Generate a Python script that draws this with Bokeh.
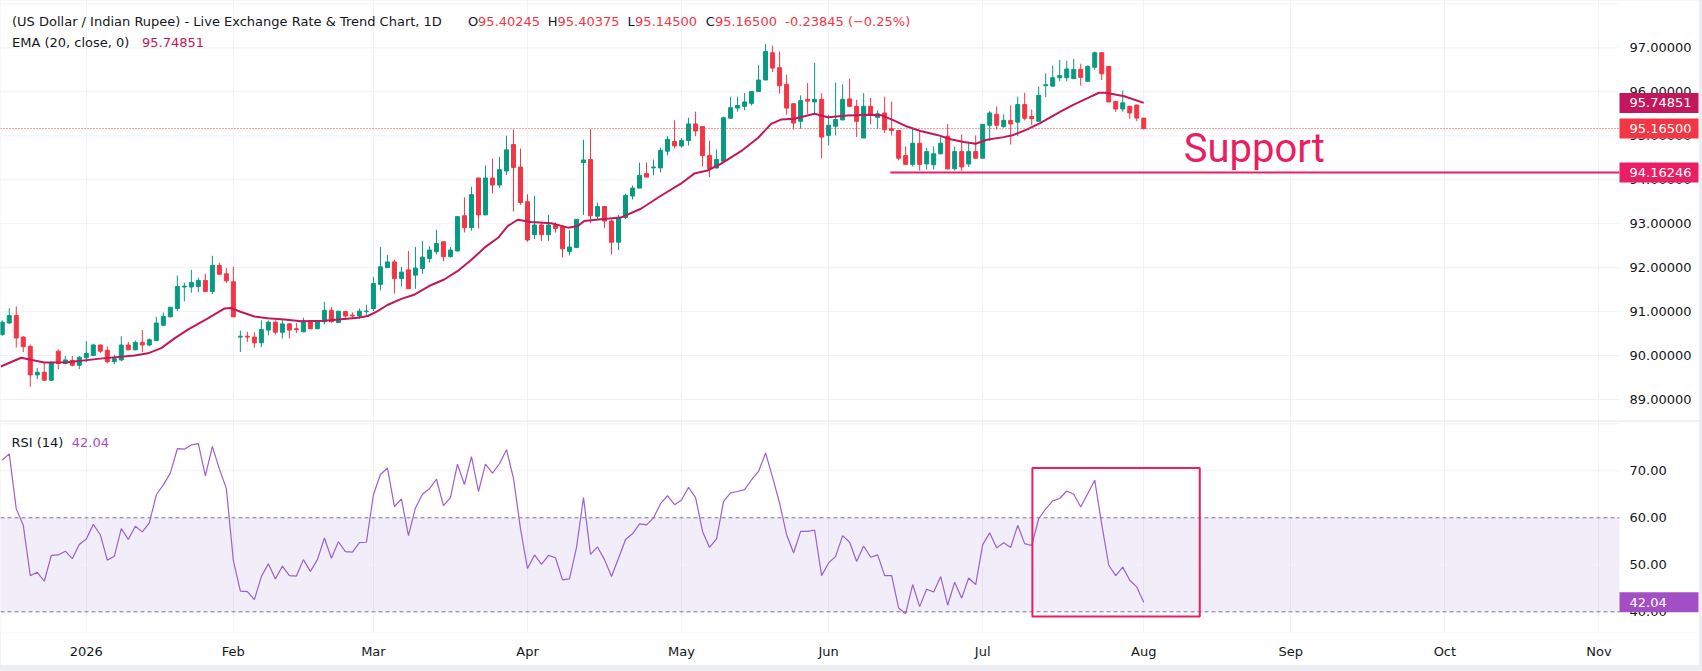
import numpy as np
import pandas as pd
from bokeh.plotting import figure
from bokeh.layouts import column
from bokeh.models import FixedTicker, Span, Label, Grid, Range1d, ColumnDataSource
from bokeh.core.properties import value
from bokeh.embed import file_html
from bokeh.resources import INLINE

# ---------------- data ----------------
bar_index = list(range(-12, 152))   # trading-day index, 0 = 2 Jan 2026

opens = [
    90.48, 90.74, 90.91, 90.42, 90.21, 89.56, 89.62, 89.44, 90.10, 89.82, 89.89, 89.78,
    89.95, 90.00, 90.24, 90.12, 89.86, 89.90, 90.24, 90.13, 90.30, 90.24,
    90.34, 90.69, 90.88, 91.07, 91.56, 91.56, 91.57, 91.71, 91.46, 92.05,
    91.86, 91.68, 90.42, 90.44, 90.42, 90.29, 90.58, 90.76, 90.53, 90.72,
    90.61, 90.54, 90.79, 90.61, 90.77, 91.03, 90.75, 91.00, 90.92, 90.90,
    91.00, 91.07, 91.62, 92.00, 92.13, 91.75, 91.95, 91.83, 91.98, 92.21,
    92.36, 92.59, 92.25, 92.38, 93.18, 92.91, 94.04, 93.20, 94.04, 93.88,
    94.20, 94.80, 94.29, 93.50, 92.75, 92.97, 92.75, 92.97, 92.93, 92.37,
    92.46, 94.39, 94.46, 93.17, 93.39, 93.06, 92.58, 93.14, 93.63, 93.81,
    94.14, 94.27, 94.27, 94.65, 94.87, 94.77, 94.89, 95.27, 95.21, 94.55,
    94.27, 94.42, 95.40, 95.63, 95.67, 95.74, 96.01, 96.27, 96.89, 96.55,
    96.17, 95.73, 95.33, 95.83, 95.77, 95.83, 95.01, 95.22, 95.36, 95.84,
    95.67, 94.95, 95.67, 95.42, 95.52, 95.16, 95.12, 94.55, 94.35, 94.83,
    94.36, 94.34, 94.59, 94.99, 94.25, 94.64, 94.36, 94.64, 94.49, 95.24,
    95.49, 95.21, 95.35, 95.31, 95.71, 95.44, 95.33, 96.14, 96.13, 96.32,
    96.32, 96.30, 96.51, 96.24, 96.56, 96.89, 96.58, 95.78, 95.61, 95.67,
    95.70, 95.40245,
]
highs = [
    90.80, 91.08, 91.12, 90.44, 90.25, 89.72, 89.84, 89.87, 90.14, 89.99, 89.99, 89.99,
    90.33, 90.27, 90.25, 90.21, 90.02, 90.44, 90.31, 90.34, 90.58, 90.39,
    90.88, 90.98, 91.10, 91.82, 91.66, 91.95, 91.77, 91.86, 92.27, 92.11,
    91.99, 92.02, 90.57, 90.54, 90.53, 90.80, 90.80, 90.80, 90.82, 90.74,
    90.74, 90.86, 90.81, 90.81, 91.22, 91.11, 91.01, 91.01, 90.98, 91.07,
    91.15, 91.79, 92.47, 92.29, 92.18, 92.02, 92.38, 92.47, 92.61, 92.49,
    92.86, 92.59, 92.47, 93.16, 93.60, 93.84, 94.04, 94.32, 94.48, 94.52,
    95.00, 95.14, 94.71, 93.67, 93.63, 93.03, 93.20, 93.03, 92.93, 92.86,
    93.10, 94.91, 95.15, 93.48, 93.39, 93.10, 93.20, 93.68, 93.87, 94.39,
    94.39, 94.46, 94.73, 94.99, 95.35, 94.95, 95.41, 95.55, 95.21, 94.89,
    94.69, 95.44, 95.89, 95.89, 95.97, 96.01, 96.61, 97.09, 97.05, 96.92,
    96.39, 95.73, 95.92, 96.20, 96.66, 95.97, 95.48, 96.21, 96.17, 96.30,
    95.82, 95.97, 95.86, 95.58, 95.89, 95.78, 95.12, 94.76, 95.18, 95.11,
    94.73, 94.76, 94.97, 95.27, 94.76, 95.03, 94.86, 95.01, 95.26, 95.56,
    95.67, 95.49, 95.69, 95.89, 95.98, 95.60, 96.12, 96.42, 96.60, 96.73,
    96.71, 96.75, 96.64, 96.60, 96.92, 96.90, 96.58, 95.79, 96.03, 95.69,
    95.71, 95.40375,
]
lows = [
    90.45, 90.72, 90.18, 90.08, 89.29, 89.46, 89.42, 89.42, 89.69, 89.80, 89.75, 89.69,
    89.85, 89.99, 90.06, 89.82, 89.80, 89.87, 90.12, 90.12, 90.08, 90.21,
    90.33, 90.67, 90.87, 91.01, 91.23, 91.43, 91.44, 91.44, 91.40, 91.85,
    91.65, 90.88, 90.08, 90.31, 90.18, 90.19, 90.46, 90.48, 90.39, 90.39,
    90.51, 90.54, 90.60, 90.60, 90.71, 90.75, 90.75, 90.86, 90.84, 90.84,
    90.90, 91.01, 91.48, 92.00, 91.41, 91.57, 91.52, 91.52, 91.86, 92.12,
    92.30, 92.15, 92.23, 92.37, 92.80, 92.84, 92.89, 93.20, 93.69, 93.82,
    94.11, 93.28, 93.43, 92.59, 92.65, 92.61, 92.61, 92.80, 92.23, 92.28,
    92.46, 93.20, 93.01, 93.09, 92.90, 92.30, 92.40, 93.11, 93.55, 93.81,
    94.06, 94.10, 94.17, 94.55, 94.71, 94.73, 94.78, 94.99, 94.30, 94.06,
    94.25, 94.42, 95.39, 95.55, 95.58, 95.69, 96.01, 96.27, 96.45, 95.96,
    95.48, 95.14, 95.16, 95.50, 95.49, 94.49, 94.78, 95.01, 95.36, 95.65,
    94.97, 94.95, 95.26, 95.16, 95.06, 95.01, 94.44, 94.35, 94.30, 94.21,
    94.23, 94.23, 94.58, 94.23, 94.21, 94.20, 94.29, 94.48, 94.49, 94.88,
    95.14, 95.18, 94.80, 94.99, 95.35, 95.24, 95.33, 95.88, 96.13, 96.24,
    96.24, 96.30, 96.14, 96.24, 96.50, 96.27, 95.77, 95.54, 95.55, 95.39,
    95.33, 95.145,
]
closes = [
    90.76, 90.91, 90.40, 90.20, 89.56, 89.62, 89.44, 89.84, 89.82, 89.90, 89.78, 89.96,
    90.05, 90.24, 90.10, 89.86, 89.93, 90.24, 90.13, 90.30, 90.24, 90.36,
    90.74, 90.89, 91.10, 91.57, 91.58, 91.66, 91.71, 91.46, 92.05, 91.85,
    91.70, 90.88, 90.44, 90.42, 90.29, 90.59, 90.76, 90.53, 90.72, 90.58,
    90.59, 90.79, 90.61, 90.79, 91.03, 90.77, 91.01, 90.90, 90.90, 91.01,
    91.01, 91.64, 92.02, 92.13, 91.75, 91.90, 91.52, 91.99, 92.24, 92.40,
    92.55, 92.25, 92.40, 93.16, 92.91, 93.66, 93.20, 94.04, 93.88, 94.23,
    94.68, 94.28, 93.48, 92.63, 92.97, 92.75, 92.97, 92.89, 92.43, 92.47,
    93.10, 94.45, 93.18, 93.39, 93.06, 92.58, 93.14, 93.64, 93.81, 94.10,
    94.06, 94.29, 94.67, 94.92, 94.77, 94.89, 95.27, 95.11, 94.55, 94.25,
    94.46, 95.41, 95.64, 95.69, 95.77, 96.01, 96.27, 96.92, 96.54, 96.14,
    95.63, 95.29, 95.80, 95.79, 95.83, 94.97, 95.24, 95.37, 95.83, 95.67,
    95.33, 95.67, 95.48, 95.50, 95.14, 95.12, 94.49, 94.35, 94.83, 94.35,
    94.64, 94.59, 94.83, 94.25, 94.64, 94.29, 94.64, 94.49, 95.26, 95.52,
    95.24, 95.35, 95.27, 95.71, 95.40, 95.39, 95.92, 96.16, 96.32, 96.37,
    96.52, 96.51, 96.33, 96.58, 96.89, 96.41, 95.77, 95.61, 95.75, 95.52,
    95.40345, 95.165,
]
rsi = [
    72.3, 73.6, 61.9, 58.4, 47.7, 48.4, 46.5, 52.0, 52.1, 52.9, 51.3, 54.3,
    55.5, 58.6, 56.4, 51.0, 51.8, 57.7, 55.4, 58.2, 57.0, 58.9,
    64.9, 67.0, 69.5, 74.7, 74.6, 75.5, 75.8, 68.9, 75.2, 70.4,
    66.2, 50.9, 44.4, 44.3, 42.6, 47.5, 50.2, 47.0, 49.7, 47.7,
    47.6, 51.1, 48.6, 51.1, 55.7, 51.4, 54.9, 52.8, 52.7, 54.7,
    54.8, 64.9, 69.2, 70.6, 62.4, 64.0, 56.2, 62.1, 65.0, 66.2,
    68.2, 62.6, 64.3, 71.4, 67.1, 73.0, 65.6, 71.4, 69.5, 71.5,
    74.5, 68.4, 57.7, 49.2, 52.1, 50.1, 52.0, 51.5, 46.8, 47.0,
    53.7, 64.3, 52.2, 53.8, 51.1, 47.5, 51.4, 55.4, 56.6, 58.7,
    58.5, 60.0, 63.0, 64.7, 62.8, 63.8, 66.5, 64.3, 57.1, 53.7,
    55.5, 63.5, 65.3, 65.6, 66.0, 68.1, 69.9, 73.8, 68.6, 63.1,
    56.4, 52.5, 57.1, 57.1, 57.4, 47.7, 50.4, 51.8, 56.2, 54.8,
    50.7, 54.0, 51.6, 52.1, 47.7, 47.7, 40.8, 39.6, 45.8, 41.1,
    44.8, 44.2, 47.5, 41.4, 46.3, 42.9, 47.2, 45.8, 54.3, 56.8,
    53.6, 54.7, 53.7, 58.4, 54.5, 54.1, 59.8, 61.9, 63.6, 64.1,
    65.7, 65.0, 62.3, 65.1, 68.0, 58.6, 49.9, 47.7, 49.5, 46.7,
    45.3, 42.04,
]
ema_bar = [-12.2, -9.3, -6, -2.7, 2, 6.9, 8.8, 10.7, 12.6, 14.5, 17.3, 19.7, 20.7, 22.1,
           24, 25.9, 28.3, 30.7, 34, 38.8, 40.2, 41.6, 43, 45, 46.9, 49.2, 51.1, 53, 55,
           56.9, 58.8, 60.2, 61.6, 63.5, 66.4, 68.8, 70.2, 71.1, 72.1, 73.5, 76.3, 79.2,
           82, 84.9, 86.8, 88.7, 90.6, 93.5, 95.9, 97.8, 99.2, 101.1, 104, 105.9, 108.7,
           111.6, 113.5, 115.3, 117.2, 119.1, 121.5, 123.4, 125.3, 127, 128.6, 131, 132.4,
           134.3, 136.2, 138.1, 139.1, 141, 142.9, 144.6, 145.6, 148.2, 151]
ema_val = [89.75, 89.95, 89.84, 89.85, 89.93, 90.00, 90.05, 90.17, 90.39, 90.59, 90.84,
           91.07, 91.08, 90.99, 90.89, 90.85, 90.82, 90.78, 90.79, 90.86, 90.90, 91.01,
           91.15, 91.29, 91.39, 91.60, 91.73, 91.92, 92.18, 92.46, 92.68, 92.95, 93.09,
           93.04, 93.01, 92.91, 92.95, 93.06, 93.08, 93.10, 93.14, 93.34, 93.63, 93.91,
           94.14, 94.21, 94.36, 94.65, 94.95, 95.27, 95.37, 95.39, 95.50, 95.42, 95.46,
           95.48, 95.47, 95.35, 95.21, 95.11, 95.02, 94.92, 94.86, 94.82, 94.91, 94.97,
           95.02, 95.14, 95.29, 95.46, 95.55, 95.71, 95.85, 95.98, 95.98, 95.90, 95.74851]

support_level = 94.16246
support_start = 114.8
support_text_at = (156.7, 94.71)
rsi_box = dict(left=135.1, right=159.0, bottom=39.0, top=70.6)

price_ticks = [89, 90, 91, 92, 93, 94, 95, 96, 97]
price_grid = [89, 90, 91, 92, 93, 94, 95, 96, 97, 98]
rsi_ticks = [40, 50, 60, 70]
rsi_grid = [50, 70, 80]
rsi_bands = [40, 60]
month_names = ["2026", "Feb", "Mar", "Apr", "May", "Jun", "Jul", "Aug", "Sep", "Oct", "Nov"]

# trading-day calendar -> bar index of the first trading day of each month
days = pd.bdate_range("2025-12-15", "2026-11-30")
days = days[~days.isin(pd.to_datetime(["2025-12-25", "2026-01-01"]))]
idx_of = {d: i - 12 for i, d in enumerate(days)}
month_ticks = [idx_of[days[(days.year == 2026) & (days.month == m)][0]] for m in range(1, 12)]

# ---------------- layout / style ----------------
GREEN, RED = "#089981", "#f23645"
EMA_C, SUP_C = "#c2185b", "#e91e63"
RSI_LINE, RSI_TAG = "#9e5fd1", "#a24fc6"
GRID_C, TXT_C = "#f0f2f6", "#131722"
AX_FONT, HD_FONT = "DejaVu Sans", "DejaVu Sans"

W = 1699
BAR0, BAR_PX = 85.8, 7.003              # pixel of bar 0 and pixels per bar
def bx(px):                               # page pixel -> bar coordinate
    return (px - BAR0) / BAR_PX

X_START, X_END = bx(0), bx(W)
X_DATA_END = bx(1619)                     # right edge of the chart area (price scale to the right)
X_LBL = bx(1629)                          # left edge of scale labels
X_TAG_R = bx(1698)
xr = Range1d(X_START, X_END)

PRICE_PX = 43.95                          # px per price unit
RSI_PX = 4.70                             # px per RSI point

def base_fig(h, yr, bottom):
    f = figure(width=W, height=h, x_range=xr, y_range=yr, output_backend="svg",
               toolbar_location=None, y_axis_location=None,
               x_axis_location="below" if bottom else None,
               min_border_left=0, min_border_right=0, min_border_top=0,
               min_border_bottom=bottom)
    f.outline_line_color = None
    f.ygrid.grid_line_color = None
    if len(f.xgrid):
        f.xgrid.ticker = FixedTicker(ticks=month_ticks)
        f.xgrid.grid_line_color = GRID_C
    else:
        f.add_layout(Grid(dimension=0, ticker=FixedTicker(ticks=month_ticks),
                          grid_line_color=GRID_C))
    return f

def hgrid(f, levels, **kw):
    f.segment(x0=[X_START] * len(levels), x1=[X_DATA_END] * len(levels),
              y0=levels, y1=levels, **kw)

def scale_labels(f, levels, fmt):
    f.text(x=[X_LBL] * len(levels), y=levels, text=[fmt % v for v in levels],
           text_font=value(AX_FONT), text_font_size=value("13px"), text_color=TXT_C,
           text_align="left", text_baseline="middle")

def tags(f, vals, txts, cols, half):
    f.quad(left=[X_DATA_END] * len(vals), right=[X_TAG_R] * len(vals),
           bottom=[v - half for v in vals], top=[v + half for v in vals],
           fill_color=cols, line_color=None)
    f.text(x=[X_LBL] * len(vals), y=vals, text=txts, text_font=value(AX_FONT),
           text_font_size=value("13px"), text_color="white",
           text_align="left", text_baseline="middle")

def hdr(f, x, y, txt, col):
    f.add_layout(Label(x=x, y=y, x_units="screen", y_units="data", text=txt,
                       text_font=HD_FONT, text_font_size="13px", text_color=col,
                       text_baseline="middle", text_align="left"))

# ---------------- price pane ----------------
p = base_fig(420, Range1d(95 - (420 - 135.3) / PRICE_PX, 95 + 135.3 / PRICE_PX), 0)
hgrid(p, price_grid, line_color=GRID_C, line_width=1)

o = np.array(opens); c = np.array(closes)
src = ColumnDataSource(dict(
    x=bar_index, high=highs, low=lows,
    top=np.maximum(o, c), bottom=np.minimum(o, c),
    color=[GREEN if cc >= oo else RED for oo, cc in zip(opens, closes)],
))
p.segment(x0="x", y0="low", x1="x", y1="high", line_color="color", line_width=1, source=src)
p.vbar(x="x", width=0.57, top="top", bottom="bottom", fill_color="color",
       line_color="color", line_width=1, source=src)
p.line(ema_bar, ema_val, line_color=EMA_C, line_width=2)
p.segment(x0=[X_START], x1=[X_DATA_END], y0=[closes[-1]], y1=[closes[-1]],
          line_color=RED, line_dash="1 2", line_width=1)
p.segment(x0=[support_start], y0=[support_level], x1=[X_DATA_END], y1=[support_level],
          line_color=SUP_C, line_width=2)
p.text(x=[support_text_at[0]], y=[support_text_at[1]], text=["Support"],
       text_font=value("Roboto"), text_font_size=value("40px"), text_color=SUP_C,
       text_baseline="alphabetic")

scale_labels(p, price_ticks, "%.5f")
tags(p, [ema_val[-1], closes[-1], support_level],
     [f"{ema_val[-1]:.5f}", f"{closes[-1]:.5f}", f"{support_level:.5f}"],
     [EMA_C, RED, SUP_C], 10 / PRICE_PX)

chg = closes[-1] - closes[-2]
pct = chg / closes[-2] * 100
pct_txt = f"{pct:.2f}%".replace("-", "\u2212")
L1 = 95 + (135.3 - 20.7) / PRICE_PX
L2 = 95 + (135.3 - 42.3) / PRICE_PX
hdr(p, 11.5, L1, "(US Dollar / Indian Rupee) - Live Exchange Rate & Trend Chart, 1D", TXT_C)
hdr(p, 467.5, L1, "O", TXT_C); hdr(p, 477.6, L1, f"{opens[-1]:.5f}", RED)
hdr(p, 547.3, L1, "H", TXT_C); hdr(p, 557.0, L1, f"{highs[-1]:.5f}", RED)
hdr(p, 627.1, L1, "L", TXT_C); hdr(p, 634.6, L1, f"{lows[-1]:.5f}", RED)
hdr(p, 705.2, L1, "C", TXT_C); hdr(p, 714.4, L1, f"{closes[-1]:.5f}", RED)
hdr(p, 784.8, L1, f"{chg:.5f} ({pct_txt})", RED)
hdr(p, 11.5, L2, "EMA (20, close, 0)", TXT_C)
hdr(p, 141.5, L2, f"{ema_val[-1]:.5f}", EMA_C)

# ---------------- RSI pane ----------------
r = base_fig(245, Range1d(40 - (632 - 611.3) / RSI_PX, 60 + (517.3 - 420) / RSI_PX), 33)
r.xaxis.ticker = FixedTicker(ticks=month_ticks)
r.xaxis.major_label_overrides = {t: n for t, n in zip(month_ticks, month_names)}
ax = r.xaxis[0]
ax.axis_line_color = None
ax.major_tick_line_color = None
ax.minor_tick_line_color = None
ax.major_label_standoff = 5
ax.major_label_text_font = AX_FONT
ax.major_label_text_font_size = "13px"
ax.major_label_text_color = TXT_C

r.quad(left=[X_START], right=[X_DATA_END], bottom=[rsi_bands[0]], top=[rsi_bands[1]],
       fill_color="#7e57c2", fill_alpha=0.1, line_color=None)
hgrid(r, rsi_grid, line_color=GRID_C, line_width=1)
hgrid(r, rsi_bands, line_color="#787b86", line_dash="4 3", line_width=1)
r.add_layout(Span(location=80.6, dimension="width", line_color="#e0e3eb", line_width=1))
r.line(bar_index, rsi, line_color=RSI_LINE, line_width=1.2)
r.quad(left=[rsi_box["left"]], right=[rsi_box["right"]], bottom=[rsi_box["bottom"]],
       top=[rsi_box["top"]], fill_color=None, line_color=SUP_C, line_width=2)
scale_labels(r, rsi_ticks, "%.2f")
tags(r, [rsi[-1]], [f"{rsi[-1]:.2f}"], [RSI_TAG], 10 / RSI_PX)
hdr(r, 11, 75.96, "RSI (14)", TXT_C)
hdr(r, 71.3, 75.96, f"{rsi[-1]:.2f}", RSI_TAG)

layout = column(p, r, spacing=0, width=1702, height=671,
                styles={"background-color": "#eceef2"})
open("out.html", "w").write(file_html(layout, INLINE))
